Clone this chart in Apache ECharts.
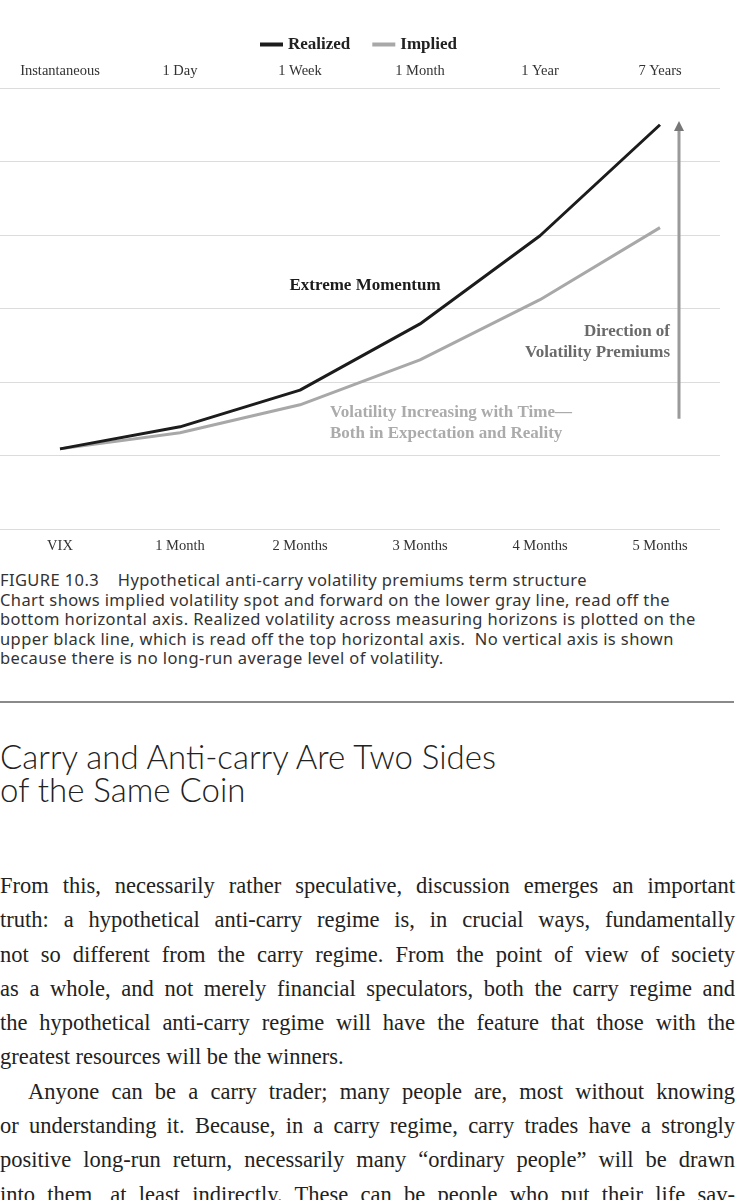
<!DOCTYPE html>
<html><head><meta charset="utf-8">
<script src="https://cdn.jsdelivr.net/npm/echarts/dist/echarts.min.js"></script>
<style>
html,body{margin:0;padding:0;background:#fff}
body{width:750px;height:1200px;overflow:hidden;position:relative}
#chart{position:absolute;left:0;top:0;width:750px;height:565px}
.cap{position:absolute;left:0;top:570px;width:745px;font-family:"Noto Sans",sans-serif;font-size:16.5px;letter-spacing:0.4px;line-height:19.5px;color:#333;white-space:nowrap}
.sep{position:absolute;left:0;top:701px;width:734px;height:2px;background:#8a8a8a}
.head{position:absolute;left:0;top:740px;font-family:Lato,"Noto Sans",sans-serif;font-weight:300;font-size:33px;line-height:33px;color:#222;white-space:nowrap}
.body{position:absolute;left:0;top:869px;width:735px;font-family:"Liberation Serif",serif;font-size:22.5px;line-height:34.3px;color:#222}
.body div{text-align:justify;text-align-last:justify;white-space:nowrap}
.body div.last{text-align-last:left}
.body div.ind{text-indent:28px}
</style>
</head><body>
<div id="chart"></div>
<div class="cap">FIGURE 10.3&nbsp;&nbsp;&nbsp; Hypothetical anti-carry volatility premiums term structure<br>Chart shows implied volatility spot and forward on the lower gray line, read off the<br>bottom horizontal axis. Realized volatility across measuring horizons is plotted on the<br>upper black line, which is read off the top horizontal axis.&nbsp; No vertical axis is shown<br>because there is no long-run average level of volatility.</div>
<div class="sep"></div>
<div class="head">Carry and Anti-carry Are Two Sides<br>of the Same Coin</div>
<div class="body">
<div>From this, necessarily rather speculative, discussion emerges an important</div>
<div>truth: a hypothetical anti-carry regime is, in crucial ways, fundamentally</div>
<div>not so different from the carry regime. From the point of view of society</div>
<div>as a whole, and not merely financial speculators, both the carry regime and</div>
<div>the hypothetical anti-carry regime will have the feature that those with the</div>
<div class="last">greatest resources will be the winners.</div>
<div class="ind">Anyone can be a carry trader; many people are, most without knowing</div>
<div>or understanding it. Because, in a carry regime, carry trades have a strongly</div>
<div>positive long-run return, necessarily many “ordinary people” will be drawn</div>
<div>into them, at least indirectly. These can be people who put their life sav-</div>
</div>
<script>
const bottomCategories = ['VIX', '1 Month', '2 Months', '3 Months', '4 Months', '5 Months'];
const topCategories = ['Instantaneous', '1 Day', '1 Week', '1 Month', '1 Year', '7 Years'];
const realized = [1.09, 1.39, 1.89, 2.79, 3.99, 5.50];
const implied = [1.09, 1.31, 1.69, 2.30, 3.12, 4.10];
const arrowRange = [1.5, 5.55];

// fit body lines that are naturally wider than the column
document.querySelectorAll('.body div').forEach(function (d) {
  let ls = 0;
  while (d.scrollWidth > 735 && ls > -1.5) {
    ls -= 0.05;
    d.style.letterSpacing = ls + 'px';
  }
});

const serif = '"Liberation Serif", serif';
const chart = echarts.init(document.getElementById('chart'), null, {renderer: 'canvas'});
const option = {
  animation: false,
  backgroundColor: '#fff',
  legend: {
    left: 255, top: 31,
    icon: 'rect', itemWidth: 23, itemHeight: 4, itemGap: 22,
    textStyle: {fontFamily: serif, fontWeight: 'bold', fontSize: 17, color: '#222'},
    data: ['Realized', 'Implied']
  },
  grid: {left: 0, right: 30, top: 88, bottom: 36, containLabel: false},
  xAxis: [
    {type: 'category', position: 'bottom', data: bottomCategories, boundaryGap: true,
     axisLine: {show: false}, axisTick: {show: false},
     axisLabel: {margin: 10, fontFamily: serif, fontSize: 14.5, color: '#333'}},
    {type: 'category', position: 'top', data: topCategories, boundaryGap: true,
     axisLine: {show: false}, axisTick: {show: false},
     axisLabel: {margin: 9, fontFamily: serif, fontSize: 14.5, color: '#333'}}
  ],
  yAxis: {type: 'value', min: 0, max: 6, interval: 1,
    axisLabel: {show: false}, axisLine: {show: false}, axisTick: {show: false},
    splitLine: {lineStyle: {color: '#dcdcdc', width: 1}}},
  series: [
    {name: 'Implied', type: 'line', xAxisIndex: 0, data: implied, showSymbol: false, symbol: 'none',
     lineStyle: {color: '#a8a8a8', width: 3}, itemStyle: {color: '#a8a8a8'}, z: 2},
    {name: 'Realized', type: 'line', xAxisIndex: 1, data: realized, showSymbol: false, symbol: 'none',
     lineStyle: {color: '#1c1c1c', width: 3}, itemStyle: {color: '#1c1c1c'}, z: 3}
  ]
};
chart.setOption(option);

const lastX = chart.convertToPixel({xAxisIndex: 0}, bottomCategories[bottomCategories.length - 1]);
const ax = lastX + 19;
const yTop = chart.convertToPixel({yAxisIndex: 0}, arrowRange[1]);
const yBot = chart.convertToPixel({yAxisIndex: 0}, arrowRange[0]);
const annFont = 'bold 17px "Liberation Serif"';
chart.setOption({
  graphic: [
    {type: 'line', shape: {x1: ax, y1: yBot, x2: ax, y2: yTop + 8}, style: {stroke: '#9a9a9a', lineWidth: 3}},
    {type: 'polygon', shape: {points: [[ax - 5, yTop + 10], [ax + 5, yTop + 10], [ax, yTop]]}, style: {fill: '#777'}},
    {type: 'text', x: 365, y: 286, style: {text: 'Extreme Momentum', font: annFont, fill: '#1c1c1c', textAlign: 'center', textVerticalAlign: 'middle'}},
    {type: 'text', x: 670, y: 332, style: {text: 'Direction of', font: annFont, fill: '#6a6a6a', textAlign: 'right', textVerticalAlign: 'middle'}},
    {type: 'text', x: 670, y: 353, style: {text: 'Volatility Premiums', font: annFont, fill: '#6a6a6a', textAlign: 'right', textVerticalAlign: 'middle'}},
    {type: 'text', x: 330, y: 413, style: {text: 'Volatility Increasing with Time—', font: annFont, fill: '#ababab', textAlign: 'left', textVerticalAlign: 'middle'}},
    {type: 'text', x: 330, y: 434, style: {text: 'Both in Expectation and Reality', font: annFont, fill: '#ababab', textAlign: 'left', textVerticalAlign: 'middle'}}
  ]
});
</script>
</body></html>
